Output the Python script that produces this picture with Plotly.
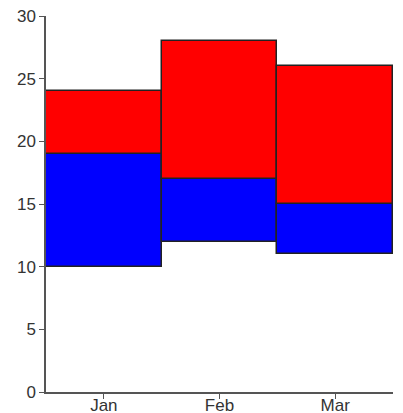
import plotly.graph_objects as go

months = ["Jan", "Feb", "Mar"]
low = [10, 12, 11]
mid = [19, 17, 15]
high = [24, 28, 26]

fig = go.Figure()

# lower segment (blue) from low to mid
fig.add_trace(
    go.Bar(
        x=months,
        y=[m - l for l, m in zip(low, mid)],
        base=low,
        marker=dict(color="#0000ff", line=dict(color="#222222", width=1.5)),
        name="low",
    )
)
# upper segment (red) from mid to high
fig.add_trace(
    go.Bar(
        x=months,
        y=[h - m for m, h in zip(mid, high)],
        base=mid,
        marker=dict(color="#ff0000", line=dict(color="#222222", width=1.5)),
        name="high",
    )
)

axis_style = dict(
    showline=True,
    linecolor="#555555",
    linewidth=1.5,
    ticks="outside",
    ticklen=5,
    tickcolor="#555555",
    showgrid=False,
    zeroline=False,
    automargin=False,
)

fig.update_layout(
    template="none",
    width=403,
    height=413,
    barmode="overlay",
    bargap=0,
    showlegend=False,
    plot_bgcolor="white",
    paper_bgcolor="white",
    margin=dict(l=46, r=10, t=16, b=21),
    font=dict(family="Liberation Sans, Arial, sans-serif", size=17, color="#333333"),
    xaxis=dict(range=[-0.5, 2.5], ticklabelstandoff=-8, **axis_style),
    yaxis=dict(range=[0, 30], dtick=5, **axis_style),
)

# drop the default body margin so the figure sits at the page corner
fig.write_html(
    "out.html",
    config={"displayModeBar": False},
    post_script="document.body.style.margin='0';document.body.style.overflow='hidden';",
)
